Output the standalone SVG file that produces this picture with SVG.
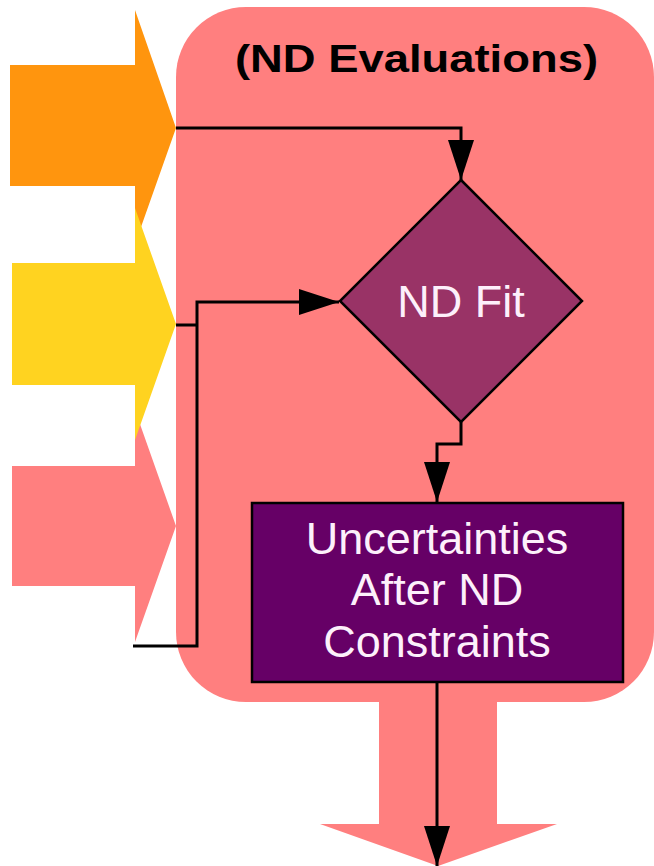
<svg xmlns="http://www.w3.org/2000/svg" width="654" height="866" viewBox="0 0 654 866">
  <style>
    .title { font-family: "Liberation Sans", Arial, sans-serif; font-weight: bold; font-size: 39px; fill: #000000; }
    .label { font-family: "Liberation Sans", Arial, sans-serif; font-size: 45px; fill: #FDF0FB; text-anchor: middle; }
    .wire { fill: none; stroke: #000000; stroke-width: 3; stroke-linejoin: miter; }
    .pink { fill: #FF7F7F; }
  </style>
  <defs>
    <marker id="head" markerUnits="userSpaceOnUse" markerWidth="42" markerHeight="28" refX="40" refY="13" orient="auto">
      <path d="M0,0 L40,13 L0,26 Z" fill="#000000"/>
    </marker>
  </defs>

  <rect width="654" height="866" fill="#FFFFFF"/>

  <!-- incoming block arrows (yellow sits over its neighbours) -->
  <g id="input-orange">
    <polygon fill="#FF950E" points="10,65 135,65 135,10 176,128 135,244 135,186 10,186"/>
  </g>
  <g id="input-pink">
    <polygon class="pink" points="12,466 135,466 135,410 176,526 135,642 135,586 12,586"/>
  </g>
  <g id="input-yellow">
    <polygon fill="#FFD320" points="12,263 135,263 135,208 176,324 135,440 135,385 12,385"/>
  </g>

  <!-- outgoing block arrow -->
  <g id="output-arrow">
    <polygon class="pink" points="379,690 497,690 497,824 557,824 438,866 320,824 379,824"/>
  </g>

  <!-- evaluation container -->
  <g id="nd-evaluations">
    <rect class="pink" x="176" y="7" width="478" height="695" rx="70" ry="70"/>
    <text class="title" x="235" y="72" textLength="363" lengthAdjust="spacingAndGlyphs">(ND Evaluations)</text>
  </g>

  <!-- fit decision -->
  <g id="nd-fit">
    <polygon points="461,180 582,301 461,422 340,301" fill="#993366" stroke="#000000" stroke-width="2.5"/>
    <text class="label" x="461" y="317">ND Fit</text>
  </g>

  <!-- result box -->
  <g id="uncertainties">
    <rect x="252" y="503" width="371" height="179" fill="#660066" stroke="#000000" stroke-width="2.5"/>
    <text class="label" x="437" y="554">Uncertainties</text>
    <text class="label" x="437" y="605">After ND</text>
    <text class="label" x="437" y="657">Constraints</text>
  </g>

  <!-- connectors -->
  <g id="connectors">
    <path class="wire" d="M176,128 H461 V180" marker-end="url(#head)"/>
    <path class="wire" d="M133,646 H197 V302 H339" marker-end="url(#head)"/>
    <path class="wire" d="M176,325 H197"/>
    <path class="wire" d="M461,422 V444 H437 V502" marker-end="url(#head)"/>
    <path class="wire" d="M437,682 V866" marker-end="url(#head)"/>
  </g>
</svg>
